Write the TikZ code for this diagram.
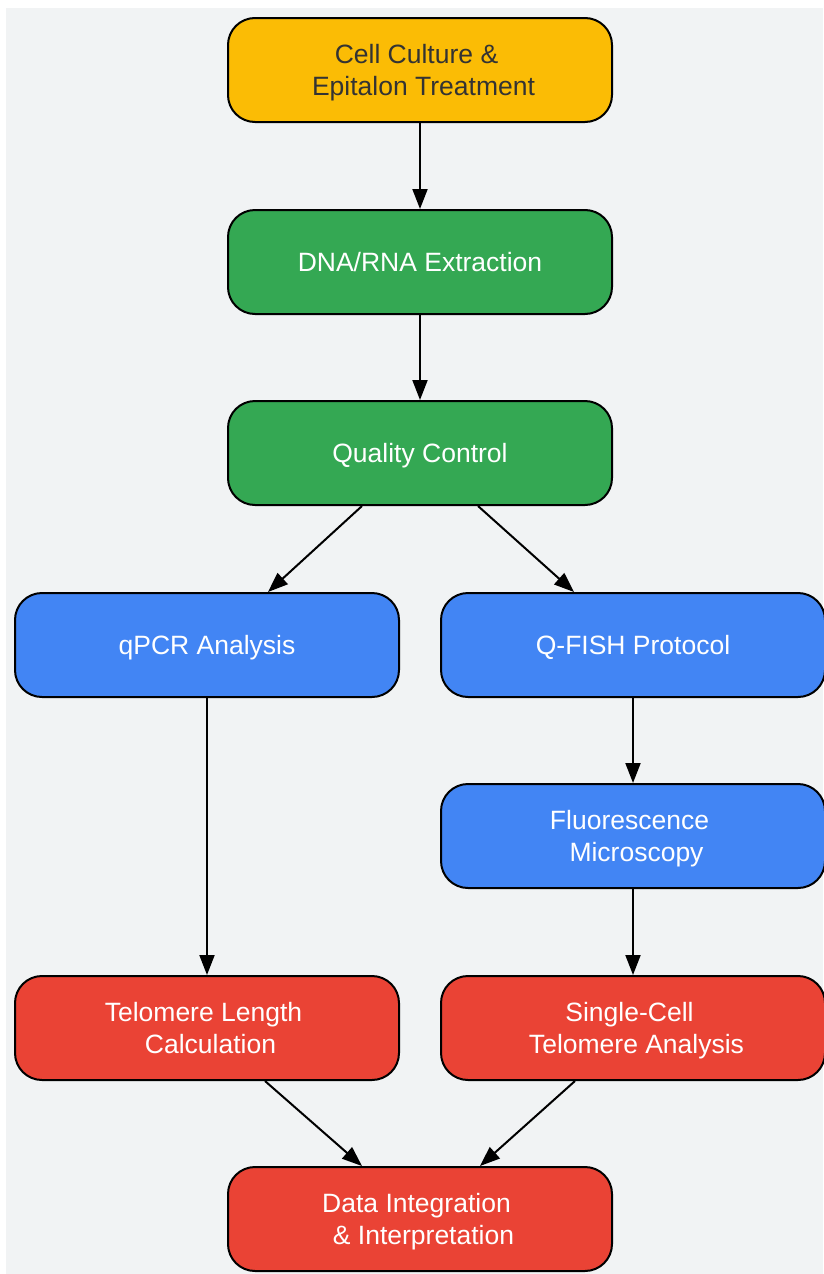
\documentclass[tikz,border=0pt]{standalone}
\usepackage{fontspec}
\setmainfont{Liberation Sans}
\usetikzlibrary{arrows.meta,calc}
\definecolor{bgc}{HTML}{F1F3F4}
\definecolor{cyel}{HTML}{FBBC05}
\definecolor{cgrn}{HTML}{34A853}
\definecolor{cblu}{HTML}{4285F4}
\definecolor{cred}{HTML}{EA4335}
\definecolor{tdark}{HTML}{333333}
\newcommand{\twol}[2]{\raisebox{16.3pt}[0pt][0pt]{\begin{tabular}[t]{@{}c@{}}#1\kern7pt\\\kern7pt #2\end{tabular}}}
\begin{document}
\begin{tikzpicture}[x=1pt,y=-1pt,
  box/.style={draw=black,line width=2pt,rounded corners=27pt,minimum width=384pt,minimum height=104pt,
    font=\fontsize{26.5pt}{32pt}\selectfont,text=white,inner sep=0pt,
    execute at begin node={\rule{0pt}{26pt}},
    execute at end node={\rule[-6.7pt]{0pt}{6.7pt}}},
  twoline/.style={execute at begin node={},execute at end node={}},
  yel/.style={box,fill=cyel,text=tdark},
  grn/.style={box,fill=cgrn},
  blu/.style={box,fill=cblu},
  rd/.style={box,fill=cred},
  arr/.style={draw=black,line width=2pt,-{Triangle[length=20pt,width=15pt]}}]
\useasboundingbox (0,0) rectangle (823,1274);
\fill[bgc] (6,8) rectangle (823,1274);
\node[yel,twoline] (cc) at (420,70) {\twol{Cell Culture \&}{Epitalon Treatment}};
\node[grn] (dna) at (420,262) {DNA/RNA Extraction};
\node[grn] (qc) at (420,453) {Quality Control};
\node[blu] (qpcr) at (207,645) {qPCR Analysis};
\node[blu] (qf) at (633,645) {Q-FISH Protocol};
\node[blu,twoline] (fm) at (633,836) {\twol{Fluorescence}{Microscopy}};
\node[rd,twoline] (tl) at (207,1028) {\twol{Telomere Length}{Calculation}};
\node[rd,twoline] (sc) at (633,1028) {\twol{Single-Cell}{Telomere Analysis}};
\node[rd,twoline] (di) at (420,1219) {\twol{Data Integration}{\& Interpretation}};
\draw[arr] (cc) -- (dna);
\draw[arr] (dna) -- (qc);
\draw[arr] ($(qc.south)+(-58,0)$) -- ($(qpcr.north)+(61,0)$);
\draw[arr] ($(qc.south)+(58,0)$) -- ($(qf.north)+(-59,0)$);
\draw[arr] (qpcr) -- (tl);
\draw[arr] (qf) -- (fm);
\draw[arr] (fm) -- (sc);
\draw[arr] ($(tl.south)+(58,0)$) -- ($(di.north)+(-58,0)$);
\draw[arr] ($(sc.south)+(-58,0)$) -- ($(di.north)+(60,0)$);
\end{tikzpicture}
\end{document}
